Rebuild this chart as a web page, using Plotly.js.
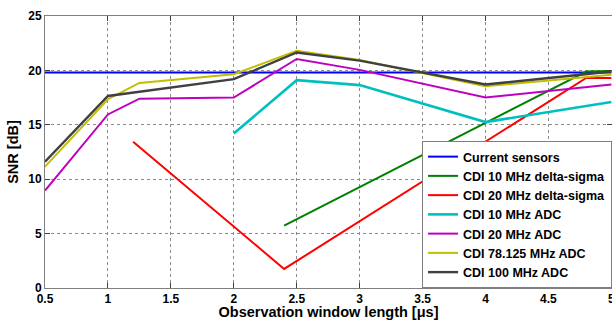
<!DOCTYPE html>
<html>
<head>
<meta charset="utf-8">
<script src="https://cdn.plot.ly/plotly-3.0.1.min.js"></script>
<style>html,body{margin:0;padding:0;background:#fff;overflow:hidden;}#chart{width:612px;height:320px;}</style>
</head>
<body>
<div id="chart"></div>
<script>
// Data
const seriesNames = ["Current sensors","CDI 10 MHz delta-sigma","CDI 20 MHz delta-sigma","CDI 10 MHz ADC","CDI 20 MHz ADC","CDI 78.125 MHz ADC","CDI 100 MHz ADC"];

const currentX = [0.5, 5];
const currentY = [19.8, 19.8];

const ds10X = [2.4, 4.8, 5];
const ds10Y = [5.73, 19.9, 19.95];

const ds20X = [1.2, 2.4, 4.8, 5];
const ds20Y = [13.45, 1.75, 19.3, 19.3];

const adc10X = [2, 2.5, 3, 4, 5];
const adc10Y = [14.2, 19.1, 18.65, 15.25, 17.1];

const adc20X = [0.5, 1, 1.25, 2, 2.5, 3, 4, 5];
const adc20Y = [8.95, 15.95, 17.4, 17.5, 21.05, 20.05, 17.5, 18.7];

const adc78X = [0.5, 1, 1.25, 2, 2.5, 3, 4, 5];
const adc78Y = [11.15, 17.35, 18.85, 19.65, 21.8, 20.95, 18.55, 19.6];

const adc100X = [0.5, 1, 2, 2.5, 3, 4, 5];
const adc100Y = [11.6, 17.65, 19.2, 21.65, 20.9, 18.7, 19.9];

const xTicks = [0.5, 1, 1.5, 2, 2.5, 3, 3.5, 4, 4.5, 5];
const yTicks = [0, 5, 10, 15, 20, 25];

const colors = ["#0000ff", "#008000", "#ff0000", "#00bfbf", "#bf00bf", "#bfbf00", "#404040"];
const widths = [2, 2, 2, 2.6, 2, 2, 2.4];

const xs = [currentX, ds10X, ds20X, adc10X, adc20X, adc78X, adc100X];
const ys = [currentY, ds10Y, ds20Y, adc10Y, adc20Y, adc78Y, adc100Y];

const traces = seriesNames.map((n, i) => ({
  x: xs[i], y: ys[i], name: n, type: "scatter", mode: "lines",
  line: {color: colors[i], width: widths[i]}
}));

const fontFam = "Arial";
const axisCommon = {
  showline: true, linecolor: "#7f7f7f", linewidth: 1, mirror: "ticks",
  ticks: "inside", ticklen: 5, tickcolor: "#404040", tickwidth: 1,
  showgrid: true, gridcolor: "#8c8c8c", griddash: "dot", gridwidth: 1,
  zeroline: false, ticklabeloverflow: "allow",
  tickfont: {family: fontFam, size: 12, color: "#000", weight: "bold"}
};

const layout = {
  width: 612, height: 320,
  margin: {l: 45, r: 0, t: 16, b: 32, pad: 0, autoexpand: false},
  paper_bgcolor: "#fff", plot_bgcolor: "#fff",
  showlegend: true,
  legend: {
    x: 0.665, y: 0, xanchor: "left", yanchor: "bottom",
    bgcolor: "#fff", bordercolor: "#7f7f7f", borderwidth: 1,
    font: {family: fontFam, size: 12.5, color: "#000", weight: "bold"},
    tracegroupgap: 0
  },
  xaxis: Object.assign({}, axisCommon, {
    range: [0.5, 5.005], tickvals: xTicks, ticktext: xTicks.map(String),
    title: {text: "Observation window length [μs]", standoff: 10,
            font: {family: fontFam, size: 14.5, color: "#000", weight: "bold"}}
  }),
  yaxis: Object.assign({}, axisCommon, {
    range: [0, 25], tickvals: yTicks, ticktext: yTicks.map(String),
    title: {text: "SNR [dB]", standoff: 6,
            font: {family: fontFam, size: 14.5, color: "#000", weight: "bold"}}
  })
};

Plotly.newPlot("chart", traces, layout, {displayModeBar: false, staticPlot: true});
</script>
</body>
</html>
